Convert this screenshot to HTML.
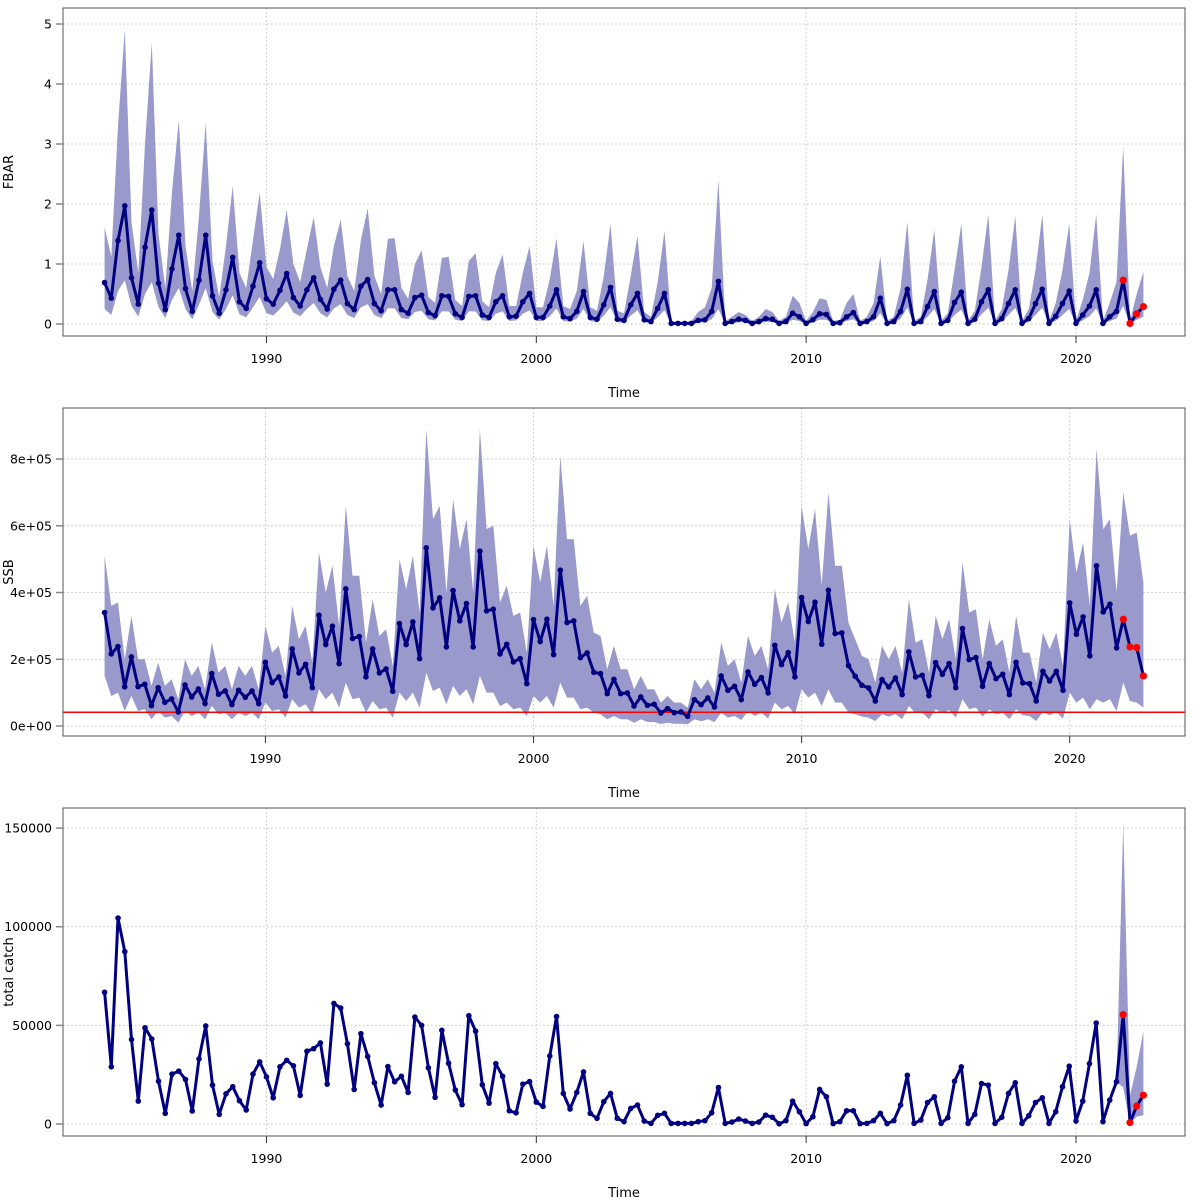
<!DOCTYPE html>
<html><head><meta charset="utf-8"><style>
html,body{margin:0;padding:0;background:#fff;}
svg{display:block;font-family:"DejaVu Sans","Liberation Sans",sans-serif;}
</style></head><body>
<svg id="chart" width="1200" height="1200" viewBox="0 0 1200 1200" xmlns="http://www.w3.org/2000/svg"></svg>
<script>
// ---- data ----
const startYear = 1984;
const xTickYears = [1990, 2000, 2010, 2020];

const fbarValues = [0.69,0.43,1.39,1.97, 0.77,0.33,1.28,1.90, 0.68,0.24,0.92,1.48, 0.59,0.21,0.73,1.48, 0.47,0.18,0.57,1.11, 0.37,0.26,0.63,1.02, 0.42,0.33,0.56,0.84, 0.44,0.30,0.57,0.77, 0.41,0.25,0.58,0.73, 0.34,0.24,0.63,0.74, 0.34,0.22,0.57,0.57, 0.24,0.18,0.44,0.48, 0.19,0.14,0.47,0.46, 0.17,0.11,0.46,0.47, 0.15,0.11,0.37,0.47, 0.12,0.13,0.37,0.51, 0.11,0.11,0.30,0.57, 0.12,0.09,0.21,0.54, 0.11,0.08,0.32,0.61, 0.08,0.06,0.32,0.51, 0.07,0.04,0.26,0.51, 0.01,0.01,0.01,0.01, 0.06,0.07,0.21,0.71, 0.01,0.04,0.08,0.06, 0.01,0.04,0.09,0.08, 0.01,0.04,0.18,0.12, 0.01,0.07,0.17,0.16, 0.01,0.02,0.12,0.19, 0.01,0.04,0.12,0.43, 0.01,0.04,0.21,0.58, 0.01,0.04,0.29,0.54, 0.01,0.06,0.36,0.53, 0.01,0.08,0.37,0.57, 0.01,0.09,0.34,0.57, 0.01,0.09,0.34,0.58, 0.01,0.13,0.34,0.55, 0.01,0.15,0.30,0.57, 0.01,0.12,0.21,0.73, 0.01,0.17,0.29];
const fbarUpper = [1.61,1.12,3.3,4.91, 1.7,0.85,3.0,4.69, 1.5,0.6,2.2,3.4, 1.3,0.55,1.8,3.36, 1.05,0.45,1.3,2.3, 0.85,0.6,1.4,2.19, 0.95,0.75,1.25,1.9, 1.0,0.7,1.25,1.78, 0.95,0.6,1.3,1.74, 0.8,0.55,1.4,1.93, 0.8,0.5,1.42,1.43, 0.6,0.42,1.0,1.23, 0.45,0.35,1.1,1.12, 0.4,0.3,1.05,1.18, 0.38,0.28,0.85,1.16, 0.3,0.3,0.85,1.3, 0.28,0.28,0.75,1.43, 0.3,0.25,0.55,1.38, 0.28,0.22,0.8,1.67, 0.22,0.18,0.8,1.47, 0.2,0.12,0.7,1.55, 0.03,0.03,0.03,0.05, 0.2,0.28,0.6,2.4, 0.05,0.12,0.2,0.15, 0.05,0.12,0.25,0.2, 0.05,0.12,0.47,0.35, 0.05,0.2,0.43,0.4, 0.05,0.07,0.35,0.5, 0.05,0.12,0.35,1.13, 0.05,0.12,0.6,1.7, 0.05,0.12,0.75,1.57, 0.05,0.18,0.9,1.67, 0.05,0.22,0.95,1.83, 0.05,0.25,0.9,1.8, 0.05,0.25,0.9,1.82, 0.05,0.35,0.9,1.67, 0.05,0.4,0.85,1.83, 0.05,0.35,0.7,2.96, 0.05,0.5,0.87];
const fbarLower = [0.25,0.15,0.55,0.73, 0.3,0.12,0.5,0.7, 0.28,0.1,0.4,0.6, 0.25,0.08,0.32,0.6, 0.2,0.07,0.25,0.48, 0.16,0.11,0.28,0.45, 0.18,0.14,0.25,0.38, 0.19,0.13,0.25,0.35, 0.18,0.11,0.26,0.33, 0.15,0.1,0.28,0.33, 0.15,0.1,0.26,0.26, 0.1,0.08,0.2,0.22, 0.08,0.06,0.21,0.21, 0.07,0.05,0.21,0.21, 0.06,0.05,0.17,0.21, 0.05,0.06,0.17,0.23, 0.05,0.05,0.13,0.26, 0.05,0.04,0.09,0.25, 0.05,0.03,0.14,0.28, 0.03,0.02,0.14,0.23, 0.03,0.02,0.11,0.23, 0,0,0,0, 0.02,0.03,0.08,0.25, 0,0.01,0.03,0.03, 0,0.01,0.04,0.03, 0,0.01,0.07,0.05, 0,0.03,0.07,0.07, 0,0.01,0.05,0.08, 0,0.01,0.05,0.18, 0,0.01,0.09,0.27, 0,0.01,0.12,0.25, 0,0.02,0.15,0.24, 0,0.03,0.16,0.27, 0,0.04,0.15,0.27, 0,0.04,0.15,0.27, 0,0.05,0.15,0.25, 0,0.06,0.13,0.26, 0,0.05,0.09,0.3, 0,0.07,0.12];
const fbarTicks = [0,1,2,3,4,5];
const fbarTickLabels = ["0","1","2","3","4","5"];

// SSB in units of 1e5
const ssbValues = [3.40,2.16,2.38,1.17, 2.07,1.18,1.25,0.61, 1.15,0.71,0.81,0.42, 1.23,0.87,1.11,0.67, 1.57,0.95,1.05,0.64, 1.07,0.86,1.05,0.67, 1.91,1.30,1.47,0.90, 2.31,1.59,1.85,1.15, 3.32,2.44,2.99,1.87, 4.11,2.62,2.68,1.47, 2.31,1.59,1.71,1.04, 3.07,2.44,3.12,2.02, 5.34,3.54,3.84,2.37, 4.06,3.15,3.67,2.37, 5.24,3.45,3.50,2.16, 2.45,1.92,2.02,1.27, 3.19,2.53,3.20,2.14, 4.67,3.10,3.15,2.05, 2.19,1.61,1.57,0.97, 1.40,0.97,0.99,0.60, 0.87,0.62,0.65,0.39, 0.52,0.40,0.42,0.29, 0.79,0.64,0.84,0.57, 1.50,1.07,1.19,0.79, 1.62,1.25,1.45,0.99, 2.42,1.84,2.20,1.47, 3.85,3.13,3.71,2.45, 4.07,2.77,2.79,1.81, 1.49,1.22,1.14,0.75, 1.39,1.17,1.44,0.94, 2.22,1.47,1.52,0.91, 1.90,1.55,1.87,1.15, 2.92,1.99,2.05,1.19, 1.87,1.42,1.55,0.94, 1.91,1.29,1.27,0.75, 1.64,1.35,1.64,1.07, 3.69,2.75,3.27,2.10, 4.80,3.42,3.65,2.34, 3.20,2.37,2.35,1.50];
const ssbUpper = [5.1,3.6,3.7,2.0, 3.3,2.0,2.0,1.2, 1.9,1.2,1.4,0.8, 2.0,1.5,1.8,1.1, 2.5,1.6,1.8,1.1, 1.8,1.5,1.8,1.1, 3.0,2.2,2.4,1.5, 3.6,2.6,3.0,1.9, 5.2,4.0,4.8,3.0, 6.6,4.5,4.5,2.5, 3.8,2.7,2.9,1.8, 5.0,4.1,5.1,3.4, 8.9,6.2,6.6,4.0, 6.8,5.3,6.2,4.0, 8.9,5.9,6.0,3.7, 4.2,3.3,3.4,2.2, 5.4,4.3,5.4,3.6, 8.1,5.6,5.6,3.6, 3.9,2.8,2.7,1.7, 2.4,1.7,1.7,1.1, 1.5,1.1,1.1,0.7, 0.9,0.7,0.7,0.55, 1.4,1.1,1.4,1.0, 2.5,1.8,2.0,1.3, 2.7,2.1,2.4,1.7, 4.1,3.1,3.7,2.5, 6.6,5.3,6.5,4.2, 7.0,4.8,4.8,3.1, 2.6,2.1,2.0,1.3, 2.4,2.0,2.4,1.6, 3.8,2.5,2.6,1.6, 3.3,2.6,3.2,2.0, 4.9,3.4,3.5,2.0, 3.2,2.4,2.6,1.6, 3.3,2.2,2.2,1.3, 2.8,2.3,2.8,1.8, 6.2,4.6,5.5,3.6, 8.3,5.9,6.2,4.0, 7.0,5.7,5.8,4.3];
const ssbLower = [1.5,0.9,1.0,0.45, 0.9,0.45,0.5,0.2, 0.45,0.25,0.3,0.1, 0.45,0.3,0.4,0.2, 0.6,0.35,0.4,0.2, 0.4,0.3,0.4,0.2, 0.7,0.45,0.5,0.25, 0.8,0.55,0.65,0.35, 1.1,0.8,1.0,0.55, 1.3,0.8,0.85,0.4, 0.75,0.5,0.55,0.25, 1.0,0.75,1.0,0.55, 1.6,1.05,1.15,0.65, 1.2,0.9,1.1,0.65, 1.5,1.0,1.0,0.6, 0.7,0.5,0.55,0.3, 0.9,0.7,0.9,0.55, 1.3,0.85,0.85,0.5, 0.55,0.4,0.35,0.2, 0.3,0.2,0.2,0.1, 0.2,0.12,0.12,0.06, 0.1,0.07,0.07,0.05, 0.2,0.14,0.2,0.12, 0.4,0.25,0.3,0.18, 0.45,0.3,0.4,0.22, 0.7,0.5,0.6,0.35, 1.1,0.85,1.0,0.6, 1.1,0.7,0.7,0.4, 0.35,0.28,0.25,0.15, 0.35,0.28,0.35,0.2, 0.6,0.38,0.4,0.2, 0.5,0.38,0.48,0.25, 0.8,0.5,0.55,0.28, 0.5,0.35,0.4,0.2, 0.5,0.32,0.3,0.15, 0.42,0.32,0.42,0.22, 1.0,0.7,0.85,0.5, 0.8,0.7,0.8,0.45, 1.3,0.75,0.7,0.55];
const ssbTicks = [0,2,4,6,8];
const ssbTickLabels = ["0e+00","2e+05","4e+05","6e+05","8e+05"];
const ssbRefLine = 0.41;

// catch in thousands
const catchValues = [66.8,29.0,104.4,87.4, 42.8,11.6,48.8,43.1, 21.7,5.4,25.3,26.8, 22.6,6.6,33.0,49.7, 19.7,4.9,15.3,18.9, 11.8,7.1,25.3,31.5, 23.9,13.3,29.0,32.3, 29.5,14.5,36.9,38.2, 41.1,20.2,61.1,58.8, 40.7,17.5,45.8,34.3, 20.9,9.6,29.1,21.4, 24.2,16.0,54.2,50.0, 28.5,13.5,47.5,30.8, 17.2,9.8,54.9,47.1, 19.9,10.6,30.6,24.2, 6.7,5.7,20.2,21.5, 11.1,8.9,34.5,54.5, 15.5,7.6,16.0,26.4, 5.4,2.9,11.3,15.5, 2.9,1.2,7.9,9.6, 1.5,0.3,4.4,5.4, 0.3,0.3,0.3,0.3, 1.2,1.7,5.7,18.5, 0.3,1.0,2.5,1.5, 0.3,1.0,4.5,3.4, 0.1,1.7,11.6,6.2, 0.2,3.7,17.5,13.8, 0.2,1.2,6.7,6.7, 0.2,0.3,1.7,5.4, 0.2,1.7,9.6,24.7, 0.3,2.0,10.9,13.8, 0.3,3.2,21.7,29.0, 0.3,4.9,20.5,19.7, 0.3,3.4,15.5,20.9, 0.3,4.2,10.9,13.3, 0.3,6.2,18.9,29.3, 1.5,11.6,30.6,51.2, 1.2,12.1,21.4,55.4, 0.7,9.1,14.6];
const catchBandIndex = [150,151,152,153,154];
const catchBandUpper = [21.4,152,14.6,29,47];
const catchBandLower = [21.4,18.5,0.3,3.7,4.5];
const catchTicks = [0,50,100,150];
const catchTickLabels = ["0","50000","100000","150000"];

const forecastCount = 4;

// ---- drawing ----
const NS = "http://www.w3.org/2000/svg";
const svg = document.getElementById("chart");
function mk(tag, attrs, parent) {
  const e = document.createElementNS(NS, tag);
  for (const k in attrs) e.setAttribute(k, attrs[k]);
  (parent || svg).appendChild(e);
  return e;
}
const BOX_L = 63, BOX_R = 1185;

function drawPanel(p) {
  const g = mk("g", {});
  
  
  const n = p.values.length;
  const t0 = startYear, t1 = startYear + (n - 1) / 4;
  const pad = (t1 - t0) * 0.04;
  const xmin = t0 - pad, xmax = t1 + pad;
  const xs = t => BOX_L + (t - xmin) / (xmax - xmin) * (BOX_R - BOX_L);
  const ys = v => p.bottom - (v - p.ymin) / (p.ymax - p.ymin) * (p.bottom - p.top);
  const tAt = i => startYear + i / 4;

  // grid
  xTickYears.forEach(yr => {
    const l = mk("line", {x1: xs(yr), x2: xs(yr), y1: p.top, y2: p.bottom, stroke: "#c4c4c4", "stroke-dasharray": "1.5,2.5", "stroke-width": 1}, g);
    
    
  });
  p.ticks.forEach(v => {
    const l = mk("line", {x1: BOX_L, x2: BOX_R, y1: ys(v), y2: ys(v), stroke: "#c4c4c4", "stroke-dasharray": "1.5,2.5", "stroke-width": 1}, g);
    
    
  });

  // band
  if (p.upper) {
    let pts = [];
    for (let i = 0; i < n; i++) pts.push(xs(tAt(i)).toFixed(1) + "," + ys(p.upper[i]).toFixed(1));
    for (let i = n - 1; i >= 0; i--) pts.push(xs(tAt(i)).toFixed(1) + "," + ys(p.lower[i]).toFixed(1));
    const band = mk("polygon", {points: pts.join(" "), fill: "#9999cc", stroke: "none"}, g);
    
    
  }
  if (p.bandIndex) {
    let pts = [];
    p.bandIndex.forEach((idx, k) => pts.push(xs(tAt(idx)).toFixed(1) + "," + ys(p.bandUpper[k]).toFixed(1)));
    for (let k = p.bandIndex.length - 1; k >= 0; k--) pts.push(xs(tAt(p.bandIndex[k])).toFixed(1) + "," + ys(p.bandLower[k]).toFixed(1));
    const band = mk("polygon", {points: pts.join(" "), fill: "#9999cc", stroke: "none"}, g);
    
    
  }

  // reference line
  if (p.ref !== undefined) {
    const r = mk("line", {x1: BOX_L, x2: BOX_R, y1: ys(p.ref), y2: ys(p.ref), stroke: "#ff0000", "stroke-width": 1.5}, g);
    
    
  }

  // series line
  const d = p.values.map((v, i) => (i ? "L" : "M") + xs(tAt(i)).toFixed(1) + "," + ys(v).toFixed(1)).join("");
  const line = mk("path", {d: d, fill: "none", stroke: "#000080", "stroke-width": 3, "stroke-linejoin": "round"}, g);
  
  
  p.values.forEach((v, i) => {
    const fc = i >= n - forecastCount;
    const c = mk("circle", {cx: xs(tAt(i)), cy: ys(v), r: fc ? 3.6 : 2.8, fill: fc ? "#ff0000" : "#000080"}, g);
    
    
  });

  // box
  const box = mk("rect", {x: BOX_L, y: p.top, width: BOX_R - BOX_L, height: p.bottom - p.top, fill: "none", stroke: "#555", "stroke-width": 1}, g);
  
  

  // x axis
  xTickYears.forEach(yr => {
    mk("line", {x1: xs(yr), x2: xs(yr), y1: p.bottom, y2: p.bottom + 7, stroke: "#333", "stroke-width": 1}, g);
    const t = mk("text", {x: xs(yr), y: p.bottom + 27, "text-anchor": "middle", "font-size": 12.5, fill: "#000"}, g);
    t.textContent = yr;
    
    
  });
  const xt = mk("text", {x: (BOX_L + BOX_R) / 2, y: p.bottom + 61, "text-anchor": "middle", "font-size": 13, fill: "#000"}, g);
  xt.textContent = "Time";
  
  

  // y axis
  p.ticks.forEach((v, k) => {
    mk("line", {x1: BOX_L - 7, x2: BOX_L, y1: ys(v), y2: ys(v), stroke: "#888", "stroke-width": 1.5}, g);
    const t = mk("text", {x: BOX_L - 11, y: ys(v) + 4.5, "text-anchor": "end", "font-size": 12.5, fill: "#000"}, g);
    t.textContent = p.tickLabels[k];
    
    
  });
  const cy = (p.top + p.bottom) / 2;
  const yt = mk("text", {x: 13, y: cy, "text-anchor": "middle", "font-size": 13, fill: "#000", transform: "rotate(-90 13 " + cy + ")"}, g);
  yt.textContent = p.title;
  
  
}

drawPanel({name: "fbar", values: fbarValues, upper: fbarUpper, lower: fbarLower, top: 8, bottom: 336, ymin: -0.2, ymax: 5.267, ticks: fbarTicks, tickLabels: fbarTickLabels, title: "FBAR"});
drawPanel({name: "ssb", values: ssbValues, upper: ssbUpper, lower: ssbLower, top: 408, bottom: 736, ymin: -0.30, ymax: 9.53, ticks: ssbTicks, tickLabels: ssbTickLabels, title: "SSB", ref: ssbRefLine});
drawPanel({name: "catch", values: catchValues, bandIndex: catchBandIndex, bandUpper: catchBandUpper, bandLower: catchBandLower, top: 808, bottom: 1136, ymin: -6.08, ymax: 160.2, ticks: catchTicks, tickLabels: catchTickLabels, title: "total catch"});
</script>
</body></html>
